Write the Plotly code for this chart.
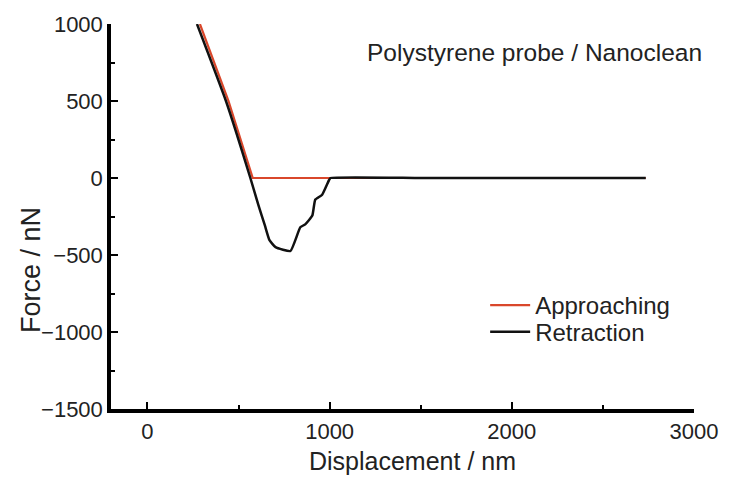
import plotly.graph_objects as go

# Approaching curve (nm, nN)
approach_x = [288, 445, 578, 1000, 2000, 2735]
approach_y = [1000, 500, 0, 0, 0, 0]

# Retraction curve (nm, nN)
retract_x = [272, 431, 565, 610, 645, 670, 703, 785, 839, 866, 905, 921, 959, 997, 1005, 1500, 2000, 2735]
retract_y = [1000, 500, 0, -180, -310, -404, -449, -474, -320, -301, -244, -141, -109, -13, 0, 0, 0, 0]

x_ticks = [0, 1000, 2000, 3000]
y_ticks = [1000, 500, 0, -500, -1000, -1500]
y_tick_text = ["1000", "500", "0", "\u2212500", "\u22121000", "\u22121500"]

font_fam = "Liberation Sans, Arial, sans-serif"
txt = "#222222"

fig = go.Figure()
fig.add_trace(go.Scatter(x=approach_x, y=approach_y, mode="lines", name="Approaching",
                         line=dict(color="#d9472b", width=2.2), legend="legend"))
fig.add_trace(go.Scatter(x=retract_x, y=retract_y, mode="lines", name="Retraction",
                         line=dict(color="#111111", width=2.5, shape="spline", smoothing=0.4),
                         legend="legend2"))

leg_common = dict(xanchor="left", yanchor="top", bgcolor="rgba(0,0,0,0)",
                  font=dict(size=24, color=txt), itemwidth=40)

fig.update_layout(
    width=730, height=479,
    margin=dict(l=111, r=30, t=18, b=70),
    paper_bgcolor="white", plot_bgcolor="white",
    font=dict(family=font_fam, size=22, color=txt),
    showlegend=True,
    legend=dict(x=(489 - 111) / 589, y=(409 - 281) / 391, **leg_common),
    legend2=dict(x=(489 - 111) / 589, y=(409 - 308) / 391, **leg_common),
    xaxis=dict(range=[-200, 3000], tickvals=x_ticks, showgrid=False, zeroline=False,
               showline=True, linecolor="black", linewidth=3.5,
               ticks="inside", ticklen=7, tickwidth=2, tickcolor="black",
               minor=dict(dtick=500, tick0=0, ticks="inside", ticklen=4, tickwidth=1.5, tickcolor="black"),
               ticklabelstandoff=0,
               tickfont=dict(size=22)),
    yaxis=dict(range=[-1500, 1000], tickvals=y_ticks, ticktext=y_tick_text,
               showgrid=False, zeroline=False,
               showline=True, linecolor="black", linewidth=3.5,
               ticks="inside", ticklen=7, tickwidth=2, tickcolor="black",
               minor=dict(dtick=250, tick0=0, ticks="inside", ticklen=4, tickwidth=1.5, tickcolor="black"),
               ticklabelstandoff=0,
               tickfont=dict(size=22)),
)

fig.add_annotation(text="Displacement / nm", xref="paper", yref="paper",
                   x=(416 - 111) / 589, y=(409 - 462) / 391, xanchor="center", yanchor="middle",
                   showarrow=False, font=dict(size=25, color=txt))
fig.add_annotation(text="Force / nN", xref="paper", yref="paper",
                   x=(30 - 111) / 589, y=(409 - 268) / 391,
                   textangle=-90, showarrow=False, font=dict(size=27, color=txt),
                   xanchor="center", yanchor="middle")
fig.add_annotation(text="Polystyrene probe / Nanoclean", xref="paper", yref="paper",
                   x=(710 - 111) / 589, y=(409 - 47) / 391, xanchor="right", yanchor="middle",
                   showarrow=False, font=dict(size=24.5, color=txt))

fig.write_html("out.html")
